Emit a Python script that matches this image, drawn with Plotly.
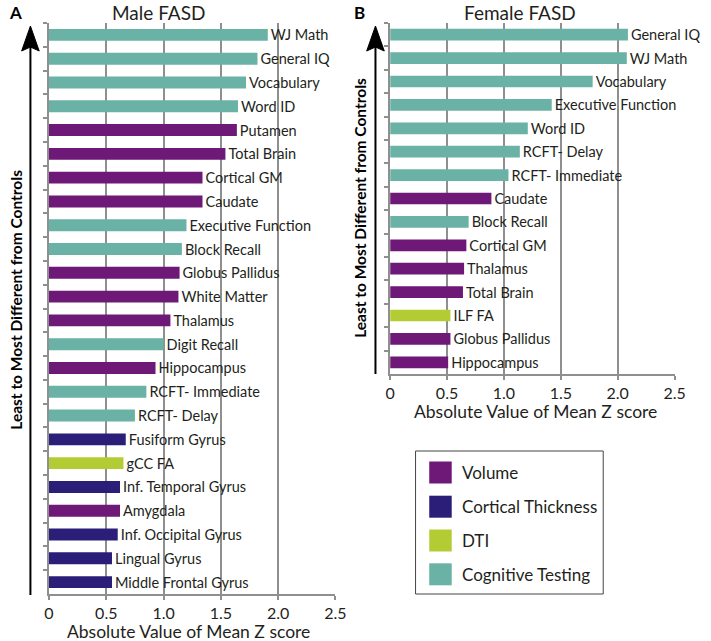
import plotly.graph_objects as go

W, H = 711, 641

male_labels = ["WJ Math", "General IQ", "Vocabulary", "Word ID", "Putamen", "Total Brain",
               "Cortical GM", "Caudate", "Executive Function", "Block Recall", "Globus Pallidus",
               "White Matter", "Thalamus", "Digit Recall", "Hippocampus", "RCFT- Immediate",
               "RCFT- Delay", "Fusiform Gyrus", "gCC FA", "Inf. Temporal Gyrus", "Amygdala",
               "Inf. Occipital Gyrus", "Lingual Gyrus", "Middle Frontal Gyrus"]
male_values = [1.91, 1.82, 1.72, 1.65, 1.64, 1.54, 1.34, 1.34, 1.20, 1.16, 1.14, 1.13,
               1.06, 1.00, 0.93, 0.85, 0.75, 0.67, 0.65, 0.62, 0.62, 0.60, 0.55, 0.55]
male_types = ["Cognitive Testing", "Cognitive Testing", "Cognitive Testing", "Cognitive Testing",
              "Volume", "Volume", "Volume", "Volume", "Cognitive Testing", "Cognitive Testing",
              "Volume", "Volume", "Volume", "Cognitive Testing", "Volume", "Cognitive Testing",
              "Cognitive Testing", "Cortical Thickness", "DTI", "Cortical Thickness", "Volume",
              "Cortical Thickness", "Cortical Thickness", "Cortical Thickness"]

female_labels = ["General IQ", "WJ Math", "Vocabulary", "Executive Function", "Word ID",
                 "RCFT- Delay", "RCFT- Immediate", "Caudate", "Block Recall", "Cortical GM",
                 "Thalamus", "Total Brain", "ILF FA", "Globus Pallidus", "Hippocampus"]
female_values = [2.09, 2.08, 1.78, 1.42, 1.21, 1.14, 1.04, 0.89, 0.69, 0.67, 0.65, 0.64,
                 0.53, 0.53, 0.51]
female_types = ["Cognitive Testing"] * 7 + ["Volume", "Cognitive Testing", "Volume", "Volume",
                                             "Volume", "DTI", "Volume", "Volume"]

legend_names = ["Volume", "Cortical Thickness", "DTI", "Cognitive Testing"]
legend_colors = ["#6E1877", "#2B1E78", "#B4CC34", "#6AB2A6"]
color_of = dict(zip(legend_names, legend_colors))

x_tickvals = [0, 0.5, 1.0, 1.5, 2.0, 2.5]
x_ticktext = ["0", "0.5", "1.0", "1.5", "2.0", "2.5"]

FONT = "Lato"
TXT = "#231F20"
GRID = "#8f8f8f"


def px(x):
    return x / W


def py(y):
    return 1 - y / H


fig = go.Figure()
fig.add_trace(go.Bar(
    x=male_values, y=male_labels, orientation="h",
    marker=dict(color=[color_of[t] for t in male_types], line=dict(width=0)),
    text=male_labels, textposition="outside", cliponaxis=False, constraintext="none",
    textfont=dict(family=FONT, size=14.5, color=TXT),
    xaxis="x", yaxis="y", showlegend=False, width=0.5))
fig.add_trace(go.Bar(
    x=female_values, y=female_labels, orientation="h",
    marker=dict(color=[color_of[t] for t in female_types], line=dict(width=0)),
    text=female_labels, textposition="outside", cliponaxis=False, constraintext="none",
    textfont=dict(family=FONT, size=14.5, color=TXT),
    xaxis="x2", yaxis="y2", showlegend=False, width=0.5))

xcommon = dict(range=[0, 2.5], tickvals=x_tickvals, ticktext=x_ticktext,
               showgrid=True, gridcolor=GRID, gridwidth=1.5, zeroline=False,
               showline=True, linecolor=GRID, linewidth=1.5,
               ticks="outside", ticklen=4, tickcolor=GRID, tickwidth=1.5,
               tickfont=dict(family=FONT, size=16, color=TXT), fixedrange=True)
ycommon = dict(type="category", autorange="reversed", tickson="boundaries",
               ticks="outside", ticklen=4, tickcolor=GRID, tickwidth=1.5,
               showticklabels=False, showgrid=False, zeroline=False,
               showline=True, linecolor=GRID, linewidth=1.5, fixedrange=True)

fig.update_layout(
    width=W, height=H,
    margin=dict(l=0, r=0, t=0, b=0),
    paper_bgcolor="white", plot_bgcolor="white",
    barmode="overlay",
    font=dict(family=FONT, color=TXT),
    xaxis=dict(domain=[px(45), px(338)], anchor="y", **xcommon),
    yaxis=dict(domain=[py(594), py(23)], anchor="x", categoryarray=male_labels, **ycommon),
    xaxis2=dict(domain=[px(394), px(685)], anchor="y2", **xcommon),
    yaxis2=dict(domain=[py(374), py(23)], anchor="x2", categoryarray=female_labels, **ycommon),
)


def note(text, x, y, size, color=TXT, angle=0, xanchor="center"):
    return dict(text=text, x=px(x), y=py(y), xref="paper", yref="paper",
                xanchor=xanchor, yanchor="middle", showarrow=False, textangle=angle,
                font=dict(family=FONT, size=size, color=color))


ann = [
    note("<b>A</b>", 11, 12, 17, "black"),
    note("<b>B</b>", 363, 12, 17, "black"),
    note("Male FASD", 157, 12, 19),
    note("Female FASD", 527, 12, 19),
    note("Absolute Value of Mean Z score", 188, 631, 17.5),
    note("Absolute Value of Mean Z score", 543, 411, 17.5),
    note("<b>Least to Most Different from Controls</b>", 11, 300, 15.5, "black", -90),
    note("<b>Least to Most Different from Controls</b>", 363, 208, 15.5, "black", -90),
]
leg_y = [472.5, 506.7, 540.5, 574.3]
for name, yy in zip(legend_names, leg_y):
    ann.append(note(name, 465, yy, 17, xanchor="left"))

shapes = []
for ax_x, y_bot in [(26, 595), (379, 374)]:
    shapes.append(dict(type="line", xref="paper", yref="paper",
                       x0=px(ax_x), x1=px(ax_x), y0=py(y_bot), y1=py(45),
                       line=dict(color="black", width=2)))
    path = (f"M {px(ax_x-9)},{py(51)} L {px(ax_x)},{py(26)} L {px(ax_x+9)},{py(51)} "
            f"L {px(ax_x)},{py(47)} Z")
    shapes.append(dict(type="path", xref="paper", yref="paper", path=path,
                       fillcolor="black", line=dict(color="black", width=1)))
shapes.append(dict(type="rect", xref="paper", yref="paper",
                   x0=px(420), x1=px(612), y0=py(594), y1=py(451),
                   line=dict(color="#444444", width=1), fillcolor="rgba(0,0,0,0)"))
for col, yy in zip(legend_colors, leg_y):
    shapes.append(dict(type="rect", xref="paper", yref="paper",
                       x0=px(434), x1=px(457), y0=py(yy + 11), y1=py(yy - 11),
                       line=dict(width=0), fillcolor=col))

fig.update_layout(annotations=ann, shapes=shapes)
fig.write_html("out.html", config={"displayModeBar": False},
               post_script="document.body.style.margin='0';document.body.style.overflow='hidden';")
